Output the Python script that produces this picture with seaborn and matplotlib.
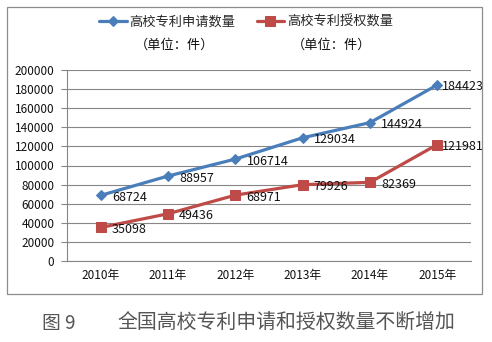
import matplotlib
matplotlib.use("Agg")
import matplotlib.pyplot as plt
from matplotlib.patches import Rectangle
import seaborn as sns
import pandas as pd

sns.set_theme(style="white")
plt.rcParams["font.family"] = ["Noto Sans CJK SC", "DejaVu Sans"]

years = ["2010年", "2011年", "2012年", "2013年", "2014年", "2015年"]
applications = [68724, 88957, 106714, 129034, 144924, 184423]
grants = [35098, 49436, 68971, 79926, 82369, 121981]
series_names = ["高校专利申请数量", "高校专利授权数量"]
unit_note = "（单位：件）"
caption_num = "图 9"
caption = "全国高校专利申请和授权数量不断增加"

blue = "#4A7EBB"
red = "#BE4B48"
grid_c = "#868686"

df = pd.DataFrame({
    "pos": list(range(len(years))) * 2,
    "year": years * 2,
    "value": applications + grants,
    "series": [series_names[0]] * len(years) + [series_names[1]] * len(years),
})

fig = plt.figure(figsize=(4.92, 3.42), dpi=100)
fig.patch.set_facecolor("white")
ax = fig.add_axes([67 / 492, 1 - 261 / 342, (471 - 67) / 492, (261 - 70) / 342])

# outer chart frame
fig.patches.append(Rectangle((7 / 492, 1 - 294 / 342), (482 - 7) / 492, (294 - 7) / 342,
                             transform=fig.transFigure, fill=False, ec="#8c8c8c", lw=0.9))

styles = [(blue, "D", 5.5), (red, "s", 7)]
for name, (col, mk, ms) in zip(series_names, styles):
    sub = df[df["series"] == name]
    sns.lineplot(data=sub, x="pos", y="value", ax=ax, color=col, lw=2.3,
                 marker=mk, markersize=ms, markeredgecolor=col, label=name)

# data labels
for series_vals in (applications, grants):
    for i, v in enumerate(series_vals):
        dx = 3.5 if i == len(series_vals) - 1 else 8
        ax.annotate(f"{v}", (i, v), xytext=(dx, -1.5), textcoords="offset points",
                    ha="left", va="center", fontsize=9, color="#111111")

ax.set_xlim(-0.5, len(years) - 0.5)
ax.set_ylim(0, 200000)
ax.set_yticks(range(0, 200001, 20000))
ax.set_yticklabels([str(t) for t in range(0, 200001, 20000)], fontsize=8.5, color="#111111")
ax.set_xticks(range(len(years)))
ax.set_xticklabels(years, fontsize=8.5, color="#111111")
ax.set_xticks([i - 0.5 for i in range(len(years) + 1)], minor=True)
ax.tick_params(axis="x", which="major", length=0, pad=6)
ax.tick_params(axis="x", which="minor", length=4, direction="out", color=grid_c, width=0.8)
ax.tick_params(axis="y", length=4, direction="out", color=grid_c, width=0.8, pad=5, left=True)
ax.set_xlabel("")
ax.set_ylabel("")
ax.grid(axis="y", color=grid_c, lw=0.8)
ax.grid(axis="x", visible=False)
ax.set_axisbelow(True)
for s in ["top", "right"]:
    ax.spines[s].set_visible(False)
for s in ["left", "bottom"]:
    ax.spines[s].set_color(grid_c)
    ax.spines[s].set_linewidth(0.8)

# legend across the top, with unit notes beneath each entry
handles, labels = ax.get_legend_handles_labels()
leg = ax.legend(handles, labels, loc="center", bbox_to_anchor=(0.5, 1 - 22 / 342),
                bbox_transform=fig.transFigure, ncol=2, frameon=False, fontsize=9.5,
                handlelength=2.1, handletextpad=0.2, columnspacing=1.6)
fig.text(135 / 492, 1 - 45 / 342, unit_note, fontsize=9.5, ha="left", va="center", color="#111111")
fig.text(292 / 492, 1 - 45 / 342, unit_note, fontsize=9.5, ha="left", va="center", color="#111111")

# figure caption
fig.text(42 / 492, 1 - 323 / 342, caption_num, fontsize=13.5, ha="left", va="center", color="#555555")
fig.text(117 / 492, 1 - 323 / 342, caption, fontsize=14.3, ha="left", va="center", color="#555555")

fig.savefig("out.png", dpi=100, facecolor="white")
